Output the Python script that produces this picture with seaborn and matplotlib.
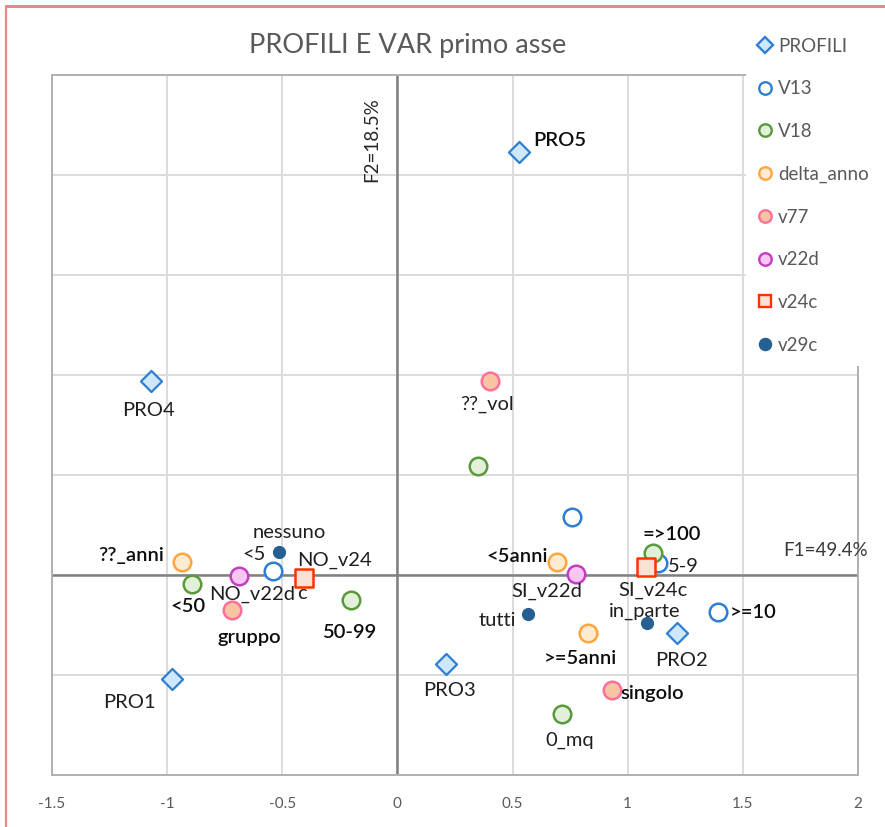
import numpy as np
import pandas as pd
import matplotlib
matplotlib.use("Agg")
import matplotlib.pyplot as plt
import seaborn as sns
from matplotlib.lines import Line2D
from matplotlib.patches import Rectangle

# ---------------- data ----------------
profili_x = [0.527, -1.072, -0.980, 0.209, 1.216]
profili_y = [2.115, 0.970, -0.520, -0.445, -0.290]
profili_lab = ["PRO5", "PRO4", "PRO1", "PRO3", "PRO2"]

v13_x = [0.760, -0.540, 1.130, 1.390]
v13_y = [0.290, 0.020, 0.060, -0.185]
v13_lab = ["", "<5", "5-9", ">=10"]

v18_x = [0.350, -0.890, -0.200, 1.110, 0.715]
v18_y = [0.545, -0.045, -0.125, 0.110, -0.695]
v18_lab = ["", "<50", "50-99", "=>100", "0_mq"]

delta_x = [-0.937, 0.693, 0.828]
delta_y = [0.065, 0.065, -0.290]
delta_lab = ["??_anni", "<5anni", ">=5anni"]

v77_x = [0.401, -0.719, 0.932]
v77_y = [0.970, -0.175, -0.575]
v77_lab = ["??_vol", "gruppo", "singolo"]

v22d_x = [-0.688, 0.776]
v22d_y = [-0.005, 0.005]
v22d_lab = ["NO_v22d", "SI_v22d"]

v24c_x = [-0.405, 1.080]
v24c_y = [-0.015, 0.040]
v24c_lab = ["NO_v24\nc", "SI_v24c"]

v29c_x = [-0.514, 0.566, 1.085]
v29c_y = [0.115, -0.195, -0.240]
v29c_lab = ["nessuno", "tutti", "in_parte"]

series_names = ["PROFILI", "V13", "V18", "delta_anno", "v77", "v22d", "v24c", "v29c"]
xtick_vals = [-1.5, -1, -0.5, 0, 0.5, 1, 1.5, 2]
xtick_labels = ["-1.5", "-1", "-0.5", "0", "0.5", "1", "1.5", "2"]

frames = []
for name, xs, ys, labs in [
    ("PROFILI", profili_x, profili_y, profili_lab),
    ("V13", v13_x, v13_y, v13_lab),
    ("V18", v18_x, v18_y, v18_lab),
    ("delta_anno", delta_x, delta_y, delta_lab),
    ("v77", v77_x, v77_y, v77_lab),
    ("v22d", v22d_x, v22d_y, v22d_lab),
    ("v24c", v24c_x, v24c_y, v24c_lab),
    ("v29c", v29c_x, v29c_y, v29c_lab),
]:
    frames.append(pd.DataFrame({"x": xs, "y": ys, "label": labs, "serie": name}))
df = pd.concat(frames, ignore_index=True)

# ---------------- styles ----------------
styles = {
    "PROFILI":    dict(marker="D", s=115, fc="#cfe7fb", ec="#2e7fcf", lw=1.6),
    "V13":        dict(marker="o", s=160, fc="#ffffff", ec="#2e7fcf", lw=1.8),
    "V18":        dict(marker="o", s=160, fc="#e2f0d9", ec="#5a9a3c", lw=1.8),
    "delta_anno": dict(marker="o", s=160, fc="#ffecd0", ec="#ffa540", lw=1.8),
    "v77":        dict(marker="o", s=160, fc="#f8c4a4", ec="#ff6f9a", lw=1.8),
    "v22d":       dict(marker="o", s=160, fc="#f9c6f4", ec="#c23ec0", lw=1.8),
    "v24c":       dict(marker="s", s=160, fc="#fbe2d5", ec="#ff3300", lw=1.8),
    "v29c":       dict(marker="o", s=72,  fc="#265f92", ec="#265f92", lw=1.0),
}

# label offsets in pixels (dx, dy, ha, va)
offsets = {
    "PRO5": (14, 12, "left", "center"),
    "PRO4": (-2, -29, "center", "center"),
    "PRO1": (-42, -24, "center", "center"),
    "PRO3": (4, -26, "center", "center"),
    "PRO2": (4, -28, "center", "center"),
    "<5": (-19, 16, "center", "center"),
    "5-9": (10, -4, "left", "center"),
    ">=10": (12, 0, "left", "center"),
    "<50": (-5, -22, "center", "center"),
    "50-99": (-2, -33, "center", "center"),
    "=>100": (19, 19, "center", "center"),
    "0_mq": (8, -26, "center", "center"),
    "??_anni": (-18, 7, "right", "center"),
    "<5anni": (-9, 5, "right", "center"),
    ">=5anni": (-8, -25, "center", "center"),
    "??_vol": (-3, -23, "center", "center"),
    "gruppo": (17, -27, "center", "center"),
    "singolo": (8, -4, "left", "center"),
    "NO_v22d": (13, -18, "center", "center"),
    "SI_v22d": (-29, -17, "center", "center"),
    "NO_v24\nc": (-7, 26, "left", "top"),
    "SI_v24c": (7, -23, "center", "center"),
    "nessuno": (10, 19, "center", "center"),
    "tutti": (-12, -7, "right", "center"),
    "in_parte": (-3, 12, "center", "center"),
}
bold_labels = {"PRO5", "<50", "50-99", "=>100", ">=10", "singolo", "<5anni",
               ">=5anni", "??_anni", "gruppo"}

# ---------------- figure ----------------
sns.set_theme(style="white")
plt.rcParams["font.family"] = ["Lato", "DejaVu Sans"]

W, H = 885, 827
fig = plt.figure(figsize=(W / 100, H / 100), dpi=100)
ax = fig.add_axes([52 / W, 1 - 775 / H, (858 - 52) / W, (775 - 75) / H])

ax.set_xlim(-1.5, 2)
ax.set_ylim(-1, 2.5)
ax.set_xticks(xtick_vals)
ax.set_xticklabels(xtick_labels)
ax.set_yticks([-0.5, 0, 0.5, 1, 1.5, 2])
ax.set_yticklabels([])
ax.tick_params(axis="both", length=0)
ax.tick_params(axis="x", pad=16, labelsize=11, labelcolor="#595959")
ax.grid(True, color="#dcdcdc", lw=1.4)
ax.set_axisbelow(True)
for sp in ax.spines.values():
    sp.set_color("#b0b0b0")
    sp.set_linewidth(1.4)
ax.axhline(0, color="#808080", lw=1.8, zorder=1)
ax.axvline(0, color="#808080", lw=1.8, zorder=1)

for name in series_names:
    sub = df[df["serie"] == name]
    st = styles[name]
    sns.scatterplot(data=sub, x="x", y="y", marker=st["marker"], s=st["s"],
                    color=st["fc"], edgecolor=st["ec"], linewidth=st["lw"],
                    ax=ax, legend=False, zorder=4)

ax.set_xlabel("")
ax.set_ylabel("")

for _, r in df.iterrows():
    if not r["label"]:
        continue
    dx, dy, ha, va = offsets[r["label"]]
    ax.annotate(r["label"], (r["x"], r["y"]), xytext=(dx, dy),
                textcoords="offset pixels", ha=ha, va=va, fontsize=14.5,
                color="#0d0d0d" if r["label"] in bold_labels else "#1f1f1f",
                fontweight="semibold" if r["label"] in bold_labels else "normal",
                linespacing=2.15, zorder=5)

ax.text(1.86, 0.125, "F1=49.4%", ha="center", va="center", fontsize=13.5,
        color="#3a3a3a", zorder=5)
ax.text(-0.113, 2.175, "F2=18.5%", ha="center", va="center", fontsize=13.5,
        color="#262626", rotation=90, zorder=5)

# white legend area covering the upper-right corner of the plot
fig.add_artist(Rectangle((746 / W, 1 - 366 / H), 1 - 746 / W, 366 / H - 8 / H,
                         transform=fig.transFigure, facecolor="white",
                         edgecolor="none", zorder=1))

handles = []
for name in series_names:
    st = styles[name]
    handles.append(Line2D([], [], linestyle="none", marker=st["marker"],
                          markersize=(8 if name == "v29c" else 9) * (0.85 if name == "PROFILI" else 1),
                          markerfacecolor=st["fc"], markeredgecolor=st["ec"],
                          markeredgewidth=1.7))
leg = fig.legend(handles, series_names, loc="upper left",
                 bbox_to_anchor=(750 / W, 1 - 30 / H), frameon=False,
                 fontsize=13.5, labelspacing=1.37, handlelength=0.8,
                 handletextpad=0.3, borderaxespad=0)
for t in leg.get_texts():
    t.set_color("#595959")
leg.set_zorder(6)

fig.text(408 / W, 1 - 45 / H, "PROFILI E VAR primo asse", ha="center",
         va="center", fontsize=19.5, color="#595959")

# outer pink border (top and left visible)
fig.add_artist(Line2D([6 / W, 1], [1 - 6 / H, 1 - 6 / H], transform=fig.transFigure,
                      color="#e48a8c", lw=2.2, zorder=7))
fig.add_artist(Line2D([6 / W, 6 / W], [0, 1 - 6 / H], transform=fig.transFigure,
                      color="#e48a8c", lw=1.6, zorder=7))

fig.savefig("out.png", dpi=100, facecolor="white")
